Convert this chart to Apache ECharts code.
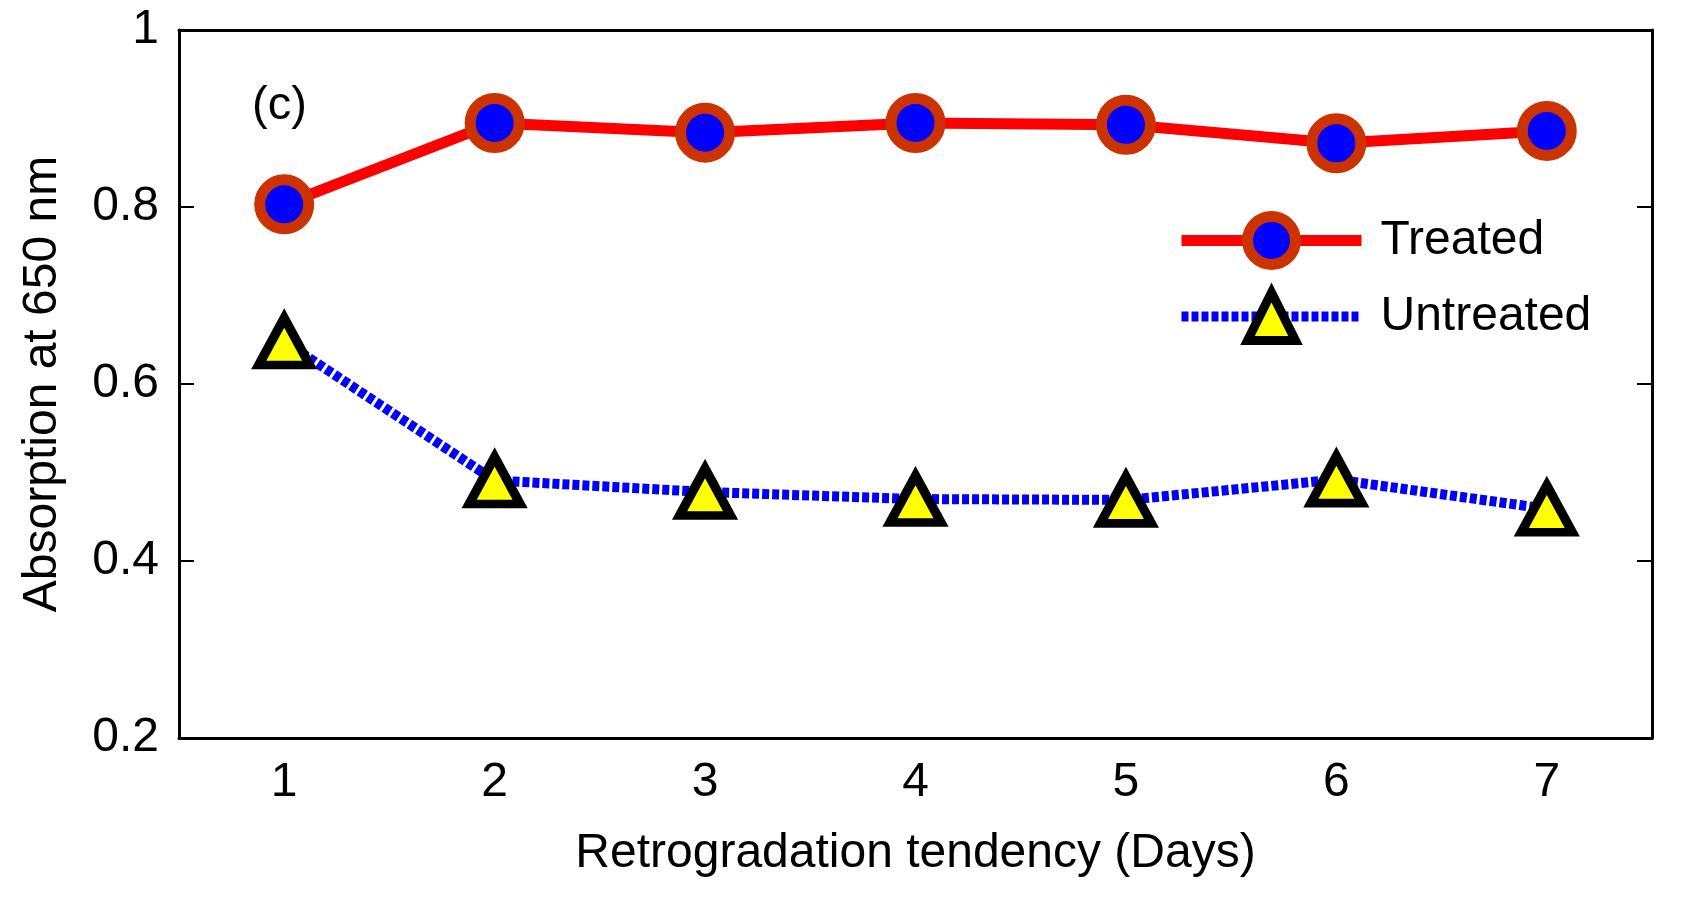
<!DOCTYPE html>
<html>
<head>
<meta charset="utf-8">
<title>Absorption at 650 nm</title>
<script src="https://cdn.jsdelivr.net/npm/echarts@6/dist/echarts.min.js"></script>
<style>
    html, body { margin: 0; padding: 0; background: #fff; }
    #main { width: 1701px; height: 912px; }
</style>
</head>
<body>
<div id="main"></div>
<script>
// 数据
var days = ['1', '2', '3', '4', '5', '6', '7'];
var treated = [0.803, 0.895, 0.884, 0.895, 0.893, 0.872, 0.886];
var untreated = [0.648, 0.491, 0.478, 0.470, 0.469, 0.492, 0.459];
var yTicks = [0.2, 0.4, 0.6, 0.8, 1];

var font = 'Liberation Sans, Arial, sans-serif';

var option = {
    animation: false,
    grid: {
        left: 179,
        right: 49,
        top: 30,
        bottom: 174
    },
    legend: {
        orient: 'vertical',
        left: 1171,
        top: 206,
        itemWidth: 180,
        itemHeight: 60,
        itemGap: 18,
        textStyle: {
            fontFamily: font,
            fontSize: 48,
            color: '#000',
            padding: [0, 0, 0, 14]
        },
        data: [{
            name: 'Treated',
            itemStyle: { borderWidth: 11, borderColor: '#cc3300', color: '#0000ff' },
            lineStyle: { width: 11, color: '#ff0000', type: 'solid' }
        }, {
            name: 'Untreated',
            itemStyle: { borderWidth: 9, borderColor: '#000', color: '#ffff00' },
            lineStyle: { width: 10, color: '#0000ff', type: [7, 3] }
        }]
    },
    graphic: [{
        type: 'text',
        left: 252,
        top: 83,
        style: {
            text: '(c)',
            font: '47px Liberation Sans, Arial, sans-serif',
            fill: '#000'
        }
    }],
    xAxis: [{
        type: 'category',
        data: days,
        boundaryGap: true,
        name: 'Retrogradation tendency (Days)',
        nameLocation: 'middle',
        nameGap: 92,
        nameTextStyle: { fontFamily: font, fontSize: 48, color: '#000' },
        axisLine: { lineStyle: { color: '#000', width: 3 } },
        axisTick: { inside: true, length: 15, alignWithLabel: true, lineStyle: { color: '#000', width: 2 } },
        axisLabel: { margin: 21, fontFamily: font, fontSize: 48, color: '#000' },
        splitLine: { show: false }
    }, {
        type: 'category',
        data: days,
        position: 'top',
        boundaryGap: true,
        axisLine: { lineStyle: { color: '#000', width: 3 } },
        axisTick: { inside: true, length: 15, alignWithLabel: true, lineStyle: { color: '#000', width: 2 } },
        axisLabel: { show: false },
        splitLine: { show: false }
    }],
    yAxis: [{
        type: 'value',
        min: yTicks[0],
        max: yTicks[yTicks.length - 1],
        interval: 0.2,
        name: 'Absorption at 650 nm',
        nameLocation: 'middle',
        nameGap: 112,
        nameTextStyle: { fontFamily: font, fontSize: 48, color: '#000' },
        axisLine: { show: true, lineStyle: { color: '#000', width: 3 } },
        axisTick: { show: true, inside: true, length: 15, lineStyle: { color: '#000', width: 2 } },
        axisLabel: { margin: 20, fontFamily: font, fontSize: 48, color: '#000' },
        splitLine: { show: false }
    }, {
        type: 'value',
        position: 'right',
        min: yTicks[0],
        max: yTicks[yTicks.length - 1],
        interval: 0.2,
        axisLine: { show: true, lineStyle: { color: '#000', width: 3 } },
        axisTick: { show: true, inside: true, length: 15, lineStyle: { color: '#000', width: 2 } },
        axisLabel: { show: false },
        splitLine: { show: false }
    }],
    series: [{
        name: 'Treated',
        type: 'line',
        data: treated,
        symbol: 'circle',
        symbolSize: 49,
        z: 3,
        lineStyle: { color: '#ff0000', width: 11 },
        itemStyle: { color: '#0000ff', borderColor: '#cc3300', borderWidth: 11 }
    }, {
        name: 'Untreated',
        type: 'line',
        data: untreated,
        symbol: 'triangle',
        symbolSize: [51, 47],
        z: 2,
        lineStyle: { color: '#0000ff', width: 10, type: [7, 3] },
        itemStyle: { color: '#ffff00', borderColor: '#000', borderWidth: 9 }
    }]
};

//初始化echarts实例
var myChart = echarts.init(document.getElementById('main'));
myChart.setOption(option);
</script>
</body>
</html>
